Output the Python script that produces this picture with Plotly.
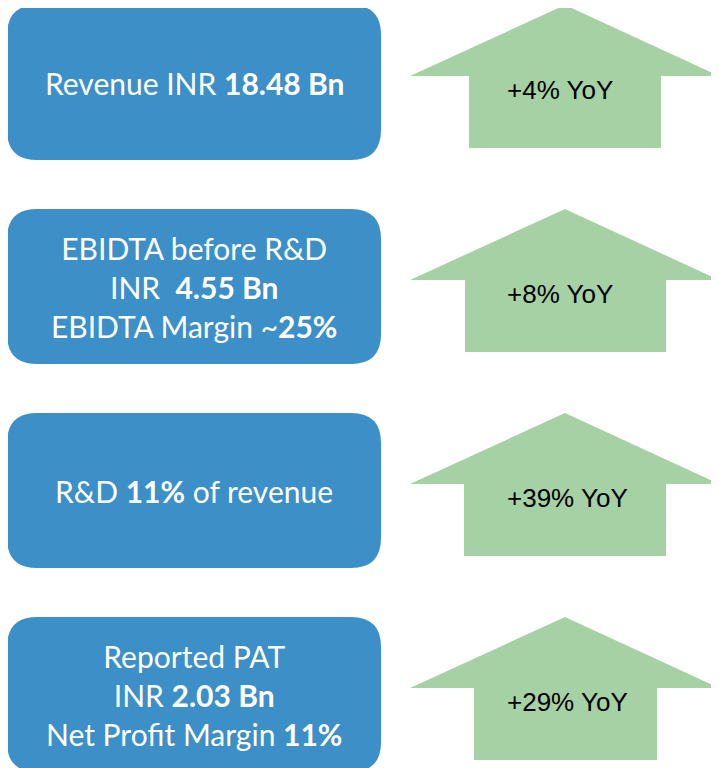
from __future__ import annotations

import plotly.graph_objects as go

# KPI text for each row (blue box lines, bold parts marked with <b>)
metric_lines = [
    ["Revenue INR <b>18.48 Bn</b>"],
    ["EBIDTA before R&D", "INR  <b>4.55 Bn</b>", "EBIDTA Margin ~<b>25%</b>"],
    ["R&D <b>11%</b> of revenue"],
    ["Reported PAT", "INR <b>2.03 Bn</b>", "Net Profit Margin <b>11%</b>"],
]
yoy_growth = [4, 8, 39, 29]

# layout (pixel space, y grows downward); page body adds an 8px margin
W, H, PAD = 719, 768, 8
row_tops = [5, 209, 413, 617]
box_x0, box_x1, box_h, radius = 7, 381, 155, 30
arrow_cx, head_x0, head_x1 = 565, 410, 719
head_h, arrow_h = 71, 143
shaft_x = [(469, 661), (465, 666), (464, 666), (474, 657)]
label_x = 505
BLUE = "#3d8fc7"
GREEN = "#a6d1a4"


def rounded_rect(x0, y0, x1, y1, r):
    return (
        f"M {x0 + r},{y0} H {x1 - r} Q {x1},{y0} {x1},{y0 + r} "
        f"V {y1 - r} Q {x1},{y1} {x1 - r},{y1} H {x0 + r} "
        f"Q {x0},{y1} {x0},{y1 - r} V {y0 + r} Q {x0},{y0} {x0 + r},{y0} Z"
    )


fig = go.Figure()

for i, top in enumerate(row_tops):
    fig.add_shape(
        type="path",
        path=rounded_rect(box_x0, top, box_x1, top + box_h, radius),
        fillcolor=BLUE,
        line=dict(width=0),
        layer="below",
    )
    fig.add_annotation(
        x=(box_x0 + box_x1) / 2,
        y=top + box_h / 2,
        text="<br>".join(metric_lines[i]),
        showarrow=False,
        font=dict(family="Lato", size=30, color="white"),
        align="center",
    )

    sx0, sx1 = shaft_x[i]
    base = top + head_h
    xs = [arrow_cx, head_x1, sx1, sx1, sx0, sx0, head_x0, arrow_cx]
    ys = [top, base, base, top + arrow_h, top + arrow_h, base, base, top]
    fig.add_trace(
        go.Scatter(
            x=xs, y=ys, mode="lines", fill="toself",
            fillcolor=GREEN, line=dict(width=0), hoverinfo="skip",
            showlegend=False,
        )
    )
    fig.add_annotation(
        x=label_x,
        y=top + 85,
        xanchor="left",
        text=f"+{yoy_growth[i]}% YoY",
        showarrow=False,
        font=dict(family="Liberation Sans", size=26, color="black"),
    )

fig.update_layout(
    width=W - PAD,
    height=H - PAD,
    margin=dict(l=0, r=0, t=0, b=0),
    paper_bgcolor="white",
    plot_bgcolor="white",
    xaxis=dict(range=[PAD, W], visible=False, fixedrange=True),
    yaxis=dict(range=[H, PAD], visible=False, fixedrange=True),
)
fig.write_html("out.html")
